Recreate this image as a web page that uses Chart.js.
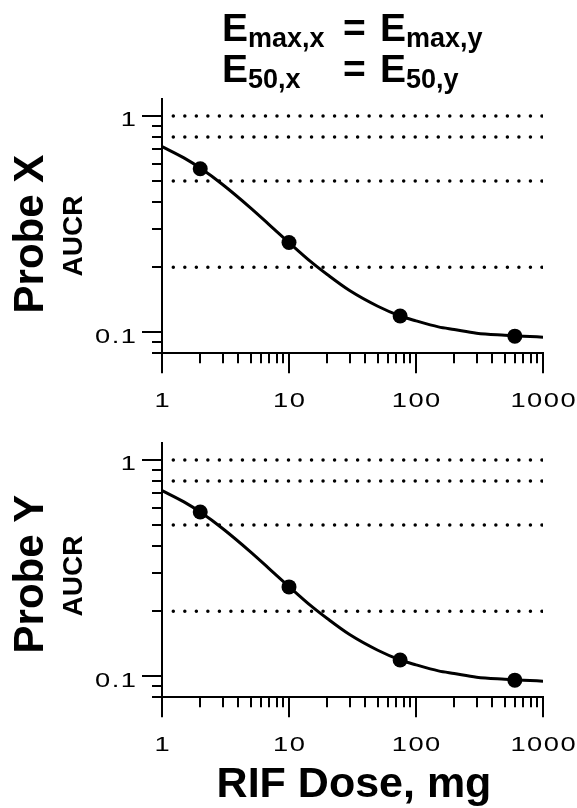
<!DOCTYPE html>
<html lang="en">
<head>
<meta charset="UTF-8">
<title>AUCR vs RIF dose</title>
<script src="https://cdn.jsdelivr.net/npm/chart.js"></script>
<style>
  html, body { margin: 0; padding: 0; background: #fff; }
  .wrap { position: relative; width: 577px; height: 808px; }
  canvas { position: absolute; left: 0; }
  #probeX { top: 0; }
  #probeY { top: 420px; }
</style>
</head>
<body>
<div class="wrap">
  <canvas id="probeX" width="577" height="420"></canvas>
  <canvas id="probeY" width="577" height="388"></canvas>
</div>
<script>
// observed AUCR at each RIF dose (mg)
const doses = [2, 10, 75, 600];
const aucrX = [0.57, 0.26, 0.119, 0.096];
const aucrY = [0.575, 0.259, 0.119, 0.096];

// fitted Emax curve, read along its length
const curveDoses = [1, 1.5, 2, 3, 5, 7, 10, 15, 20, 30, 50, 75, 100, 150, 200, 300, 500, 700, 1000];
const curveX = [0.722, 0.638, 0.574, 0.482, 0.375, 0.314, 0.260, 0.211, 0.185, 0.156, 0.132, 0.119, 0.113, 0.106, 0.103, 0.099, 0.097, 0.096, 0.095];
const curveY = [0.722, 0.638, 0.574, 0.482, 0.375, 0.314, 0.260, 0.211, 0.185, 0.156, 0.132, 0.119, 0.113, 0.106, 0.103, 0.099, 0.097, 0.096, 0.095];

// dotted reference levels
const refLevels = [1, 0.8, 0.5, 0.2];

const xTickLabels = ['1', '10', '100', '1000'];
const yTickLabels = ['0.1', '1'];
const yTickValues = [0.08, 0.09, 0.1, 0.2, 0.3, 0.4, 0.5, 0.6, 0.7, 0.8, 0.9, 1];
const xTickValues = [];
for (let e = 0; e < 3; e++) {
  for (let d = 1; d < 10; d++) xTickValues.push(d * Math.pow(10, e));
}
xTickValues.push(1000);

const FONT = '"Liberation Sans", Arial, sans-serif';

function isDecade(v) {
  const l = Math.log10(v);
  return Math.abs(l - Math.round(l)) < 1e-6;
}

// tick labels are set wide, like the original plotting package
function drawSpaced(ctx, text, x, y, align) {
  const sx = 1.3, gap = 1.5;
  const chars = [...text];
  const adv = chars.map(c => ctx.measureText(c).width * sx);
  const total = adv.reduce((a, b) => a + b, 0) + gap * (chars.length - 1);
  let cx = align === 'center' ? x - total / 2 : align === 'right' ? x - total : x;
  chars.forEach((c, i) => {
    ctx.save();
    ctx.translate(cx, y);
    ctx.scale(sx, 1);
    ctx.fillText(c, 0, 0);
    ctx.restore();
    cx += adv[i] + gap;
  });
}

function drawHeader(ctx) {
  const big = 'bold 39px ' + FONT;
  const small = 'bold 27px ' + FONT;
  const rows = [
    { base: 41, left: 'max,x', right: 'max,y' },
    { base: 82, left: '50,x', right: '50,y' }
  ];
  rows.forEach(r => {
    ctx.font = big;
    const ew = ctx.measureText('E').width;
    ctx.fillText('E', 222, r.base);
    ctx.fillText('=', 343, r.base);
    ctx.fillText('E', 380, r.base);
    ctx.font = small;
    ctx.fillText(r.left, 222 + ew, r.base + 6);
    ctx.fillText(r.right, 380 + ew, r.base + 6);
  });
}

const axisMarks = {
  id: 'axisMarks',
  afterDraw(chart, args, opts) {
    const { ctx, chartArea } = chart;
    const xs = chart.scales.x, ys = chart.scales.y;
    ctx.save();
    ctx.strokeStyle = '#000';
    ctx.fillStyle = '#000';
    ctx.lineWidth = 2;
    ctx.lineCap = 'butt';

    // x ticks point down, y ticks point left
    ctx.beginPath();
    xTickValues.forEach(v => {
      const px = Math.round(xs.getPixelForValue(v));
      const len = isDecade(v) ? 20 : 10;
      ctx.moveTo(px, chartArea.bottom);
      ctx.lineTo(px, chartArea.bottom + len);
    });
    yTickValues.forEach(v => {
      const py = Math.round(ys.getPixelForValue(v));
      const len = isDecade(v) ? 20 : 10;
      ctx.moveTo(chartArea.left, py);
      ctx.lineTo(chartArea.left - len, py);
    });
    ctx.stroke();

    ctx.font = '21px ' + FONT;
    ctx.textAlign = 'left';
    ctx.textBaseline = 'alphabetic';
    xTickLabels.forEach(t => {
      drawSpaced(ctx, t, xs.getPixelForValue(Number(t)), chartArea.bottom + 54, 'center');
    });
    yTickLabels.forEach(t => {
      drawSpaced(ctx, t, chartArea.left - 26, ys.getPixelForValue(Number(t)) + 10.5, 'right');
    });

    // two-line y title: probe name over AUCR
    const cy = (chartArea.top + chartArea.bottom) / 2 + opts.titleShift;
    ctx.textAlign = 'center';
    ctx.save();
    ctx.translate(43, cy);
    ctx.rotate(-Math.PI / 2);
    ctx.font = 'bold 42px ' + FONT;
    ctx.fillText(opts.probe, 0, 0);
    ctx.restore();
    ctx.save();
    ctx.translate(82, cy + 2);
    ctx.rotate(-Math.PI / 2);
    ctx.font = 'bold 28px ' + FONT;
    ctx.fillText('AUCR', 0, 0);
    ctx.restore();

    if (opts.xTitle) {
      ctx.font = 'bold 43px ' + FONT;
      ctx.fillText(opts.xTitle, 354, chartArea.bottom + 100);
    }
    if (opts.header) {
      ctx.textAlign = 'left';
      drawHeader(ctx);
    }
    ctx.restore();
  }
};

function makeChart(id, values, curve, padding, extra) {
  const datasets = [
    {
      data: doses.map((d, i) => ({ x: d, y: values[i] })),
      showLine: false,
      pointRadius: 7.5,
      pointBackgroundColor: '#000',
      pointBorderColor: '#000',
      pointBorderWidth: 0
    },
    {
      data: curveDoses.map((d, i) => ({ x: d, y: curve[i] })),
      borderColor: '#000',
      borderWidth: 3,
      pointRadius: 0,
      cubicInterpolationMode: 'monotone'
    }
  ];
  refLevels.forEach(level => {
    datasets.push({
      data: [{ x: 1, y: level }, { x: 1000, y: level }],
      borderColor: '#000',
      borderWidth: 3.5,
      borderDash: [0, 11.52],
      borderDashOffset: 0.22,
      borderCapStyle: 'round',
      pointRadius: 0
    });
  });

  const axis = {
    grid: { display: false, drawTicks: false },
    ticks: { display: false },
    border: { display: true, color: '#000', width: 2 }
  };

  return new Chart(document.getElementById(id), {
    type: 'line',
    data: { datasets },
    options: {
      responsive: false,
      animation: false,
      layout: { padding },
      scales: {
        x: Object.assign({ type: 'logarithmic', min: 1, max: 1000 }, axis),
        y: Object.assign({ type: 'logarithmic', min: 0.08, max: 1.2 }, axis)
      },
      plugins: {
        legend: { display: false },
        tooltip: { enabled: false },
        axisMarks: extra
      }
    },
    plugins: [axisMarks]
  });
}

makeChart('probeX', aucrX, curveX,
  { left: 162, right: 34, top: 98.8, bottom: 66.7 },
  { probe: 'Probe X', titleShift: 8, header: true });

makeChart('probeY', aucrY, curveY,
  { left: 162, right: 34, top: 22.8, bottom: 110.7 },
  { probe: 'Probe Y', titleShift: 4, xTitle: 'RIF Dose, mg' });
</script>
</body>
</html>
